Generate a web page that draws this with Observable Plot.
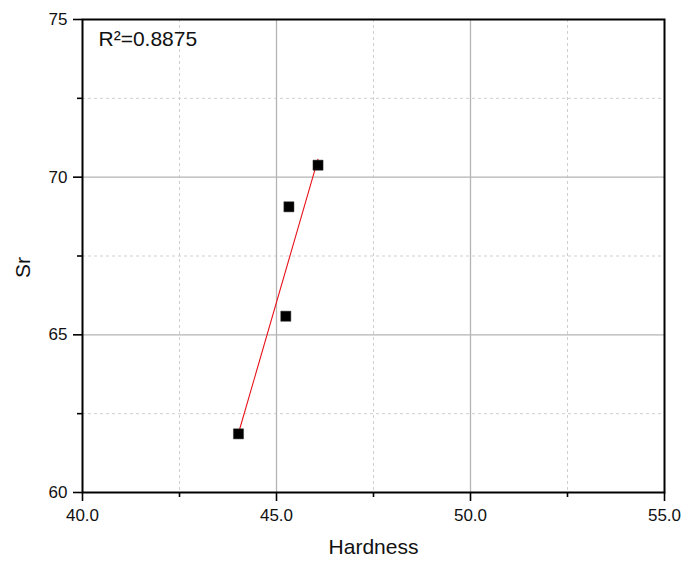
<!DOCTYPE html>
<html>
<head>
<meta charset="utf-8">
<script src="https://cdn.jsdelivr.net/npm/d3@7"></script>
<script src="https://cdn.jsdelivr.net/npm/@observablehq/plot@0.6"></script>
<style>
  html, body { margin: 0; padding: 0; background: #fff; }
  #chart svg { display: block; }
</style>
</head>
<body>
<div id="chart"></div>
<script>
// Hardness vs Sr measurements with a least-squares fit line
const hardness = [44.02, 45.24, 45.32, 46.07];
const sr = [61.86, 65.59, 69.06, 70.38];
const r2 = "0.8875";

const xMajor = [40, 45, 50, 55];
const xMinor = [42.5, 47.5, 52.5];
const yMajor = [60, 65, 70, 75];
const yMinor = [62.5, 67.5, 72.5];
const xTitle = "Hardness";
const yTitle = "Sr";

const data = hardness.map((h, i) => ({hardness: h, sr: sr[i]}));

const font = "'Liberation Sans', Arial, sans-serif";

const chart = Plot.plot({
  width: 681,
  height: 562,
  marginLeft: 82,
  marginRight: 17,
  marginTop: 19,
  marginBottom: 70,
  style: {fontFamily: font, background: "#fff"},
  x: {domain: [40, 55]},
  y: {domain: [60, 75]},
  marks: [
    // minor (dotted) and major (solid) grid lines
    Plot.gridX(xMinor, {stroke: "#cfcfcf", strokeOpacity: 1, strokeDasharray: "3,3"}),
    Plot.gridY(yMinor, {stroke: "#cfcfcf", strokeOpacity: 1, strokeDasharray: "3,3"}),
    Plot.gridX(xMajor.slice(1, -1), {stroke: "#b4b4b4", strokeOpacity: 1, strokeWidth: 1.3}),
    Plot.gridY(yMajor.slice(1, -1), {stroke: "#b4b4b4", strokeOpacity: 1, strokeWidth: 1.3}),
    // axes: major ticks with labels, minor ticks without
    Plot.axisX(xMajor, {tickSize: 9, tickPadding: 7, tickFormat: d3.format(".1f"), fontSize: 17, stroke: "#000", strokeWidth: 1.6, color: "#111", label: null}),
    Plot.axisX(xMinor, {tickSize: 5, tickFormat: null, text: null, stroke: "#000", strokeWidth: 1.6, label: null}),
    Plot.axisY(yMajor, {tickSize: 9, tickPadding: 6, fontSize: 17, stroke: "#000", strokeWidth: 1.6, color: "#111", label: null}),
    Plot.axisY(yMinor, {tickSize: 5, tickFormat: null, text: null, stroke: "#000", strokeWidth: 1.6, label: null}),
    Plot.frame({stroke: "#000", strokeWidth: 2}),
    // fit line
    Plot.linearRegressionY(data, {x: "hardness", y: "sr", stroke: "#e8121a", strokeWidth: 1.1, ci: 0}),
    // measured points
    Plot.dot(data, {x: "hardness", y: "sr", symbol: "square", r: 5.7, fill: "#000", stroke: "#333", strokeWidth: 0.5}),
    // annotation and axis titles
    Plot.text([`R\u00B2=${r2}`], {frameAnchor: "top-left", dx: 16, dy: 12, textAnchor: "start", lineAnchor: "top", fontSize: 21, fill: "#111"}),
    Plot.text([xTitle], {frameAnchor: "bottom", dy: 55, lineAnchor: "middle", fontSize: 21, fill: "#111"}),
    Plot.text([yTitle], {frameAnchor: "left", dx: -59, dy: 22, rotate: -90, lineAnchor: "middle", fontSize: 21, fill: "#111"})
  ]
});

document.getElementById("chart").appendChild(chart);
</script>
</body>
</html>
